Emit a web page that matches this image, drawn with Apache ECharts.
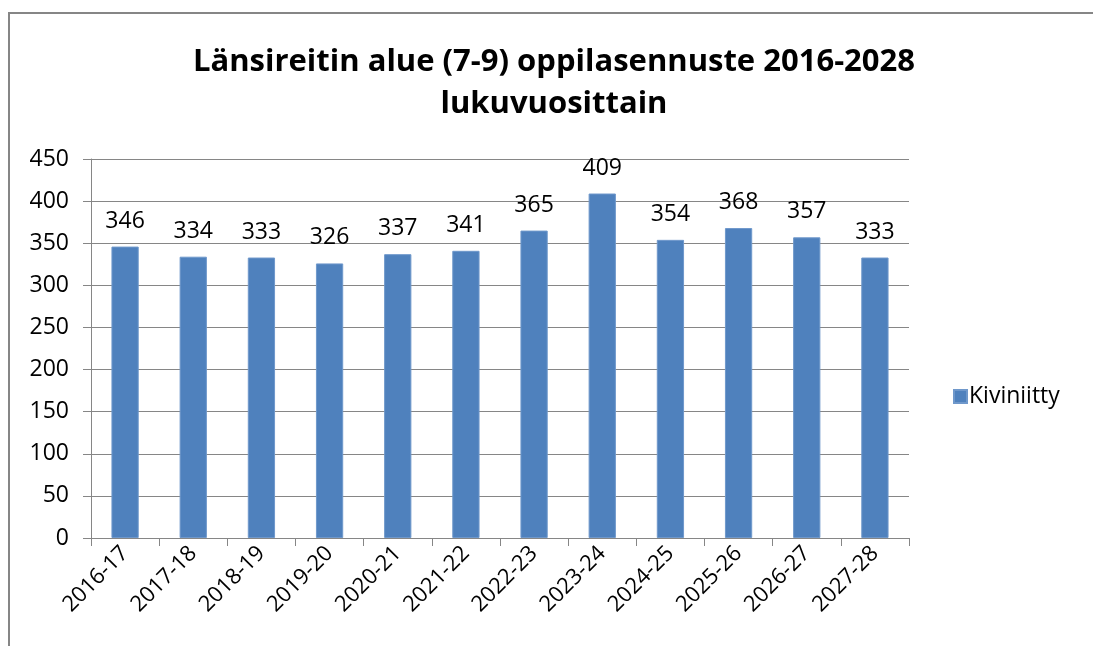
<!DOCTYPE html>
<html>
<head>
<meta charset="utf-8">
<script src="https://cdn.jsdelivr.net/npm/echarts@6/dist/echarts.min.js"></script>
<style>
  html, body { margin: 0; padding: 0; background: #fff; }
  #main { width: 1093px; height: 646px; }
</style>
</head>
<body>
<div id="main"></div>
<script>
// lukuvuodet
var categories = ["2016-17", "2017-18", "2018-19", "2019-20", "2020-21", "2021-22",
  "2022-23", "2023-24", "2024-25", "2025-26", "2026-27", "2027-28"];
// oppilasmäärät, Kiviniitty
var kiviniitty = [346, 334, 333, 326, 337, 341, 365, 409, 354, 368, 357, 333];
var seriesName = "Kiviniitty";

var font = "'Open Sans', 'Liberation Sans', sans-serif";
var gray = "#868686";

var myChart = echarts.init(document.getElementById("main"), null, { renderer: "canvas" });

var option = {
  backgroundColor: "#fff",
  animation: false,
  title: {
    text: "Länsireitin alue (7-9) oppilasennuste 2016-2028\nlukuvuosittain",
    left: 549,
    top: 36,
    textAlign: "center",
    textStyle: {
      fontFamily: font,
      fontSize: 31,
      fontWeight: "bold",
      color: "#000",
      lineHeight: 42
    }
  },
  // kaavion reunus
  graphic: [{
    type: "rect",
    shape: { x: 9, y: 13, width: 1200, height: 1000 },
    style: { fill: null, stroke: gray, lineWidth: 2 },
    silent: true
  }],
  legend: {
    orient: "vertical",
    left: 948,
    top: 380,
    itemWidth: 13,
    itemHeight: 13,
    itemGap: 5,
    icon: "rect",
    data: [seriesName],
    textStyle: { fontFamily: font, fontSize: 23, color: "#000", padding: [0, 0, 0, -3] }
  },
  grid: {
    left: 91,
    right: 184,
    top: 159,
    bottom: 108,
    containLabel: false
  },
  xAxis: {
    type: "category",
    data: categories,
    axisLine: { lineStyle: { color: gray, width: 1 } },
    axisTick: { show: true, length: 8, lineStyle: { color: gray } },
    axisLabel: {
      rotate: 45,
      margin: 12,
      fontFamily: font,
      fontSize: 22,
      color: "#000"
    }
  },
  yAxis: {
    type: "value",
    min: 0,
    max: 450,
    interval: 50,
    axisLine: { show: true, lineStyle: { color: gray, width: 1 } },
    axisTick: { show: true, length: 8, lineStyle: { color: gray } },
    splitLine: { lineStyle: { color: gray, width: 1 } },
    axisLabel: {
      margin: 22,
      fontFamily: font,
      fontSize: 23,
      color: "#000"
    }
  },
  series: [{
    name: seriesName,
    type: "bar",
    data: kiviniitty,
    barWidth: "40%",
    itemStyle: { color: "#4F81BD", borderColor: "#6F98CB", borderWidth: 1 },
    label: {
      show: true,
      position: "top",
      distance: 14,
      fontFamily: font,
      fontSize: 23,
      color: "#000"
    }
  }]
};

myChart.setOption(option);
</script>
</body>
</html>
